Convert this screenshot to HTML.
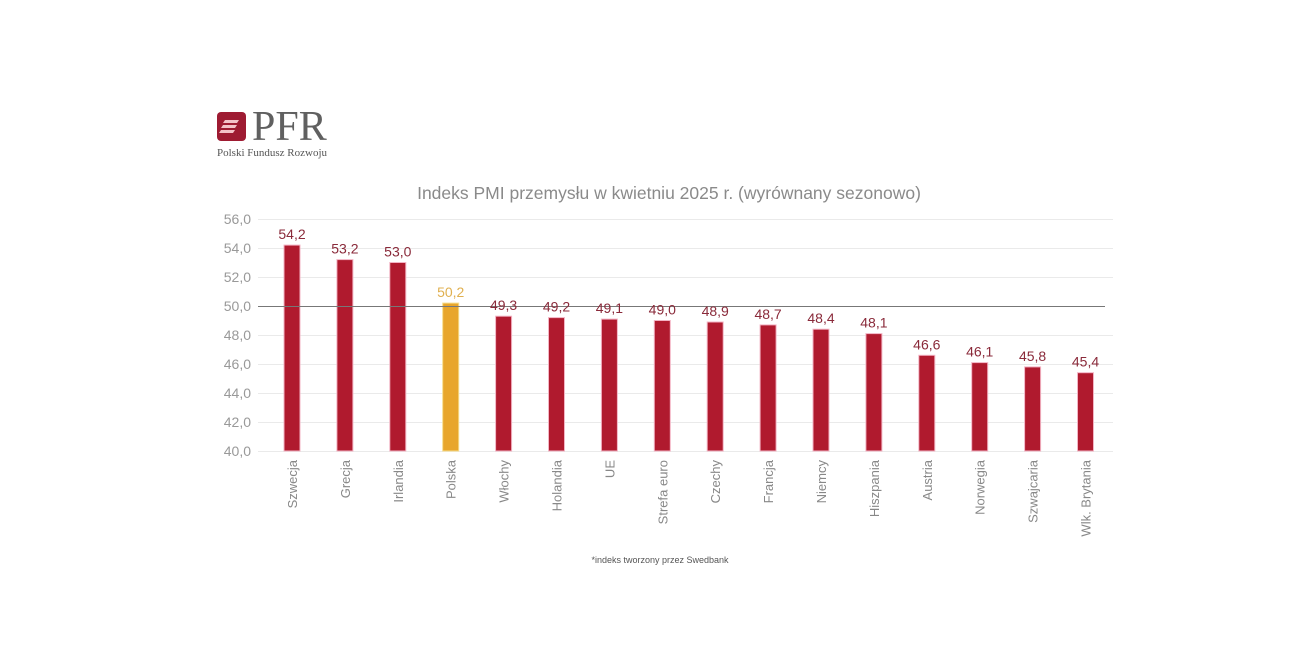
<!DOCTYPE html>
<html><head><meta charset="utf-8"><style>
body{margin:0;background:#fff;width:1294px;height:646px;overflow:hidden;font-family:"Liberation Sans",sans-serif}
</style></head><body>
<svg width="1294" height="646" xmlns="http://www.w3.org/2000/svg" font-family="Liberation Sans, sans-serif">
<rect x="217" y="112" width="29" height="29" rx="4" fill="#9e1b32"/>
<path d="M225 120h14l-2 3h-14zM223 125h14l-2 3h-14zM221 130h14l-2 3h-14z" fill="#f4c2c8"/>
<text x="252" y="140" font-family="Liberation Serif, serif" font-size="42" fill="#606060">PFR</text>
<text x="217" y="156" font-family="Liberation Serif, serif" font-size="11" fill="#555">Polski Fundusz Rozwoju</text>
<text x="669" y="199" text-anchor="middle" font-size="17.5" fill="#8a8a8a">Indeks PMI przemysłu w kwietniu 2025 r. (wyrównany sezonowo)</text>
<g stroke="#eaeaea" stroke-width="1">
<line x1="258" x2="1113" y1="219.5" y2="219.5"/><line x1="258" x2="1113" y1="248.5" y2="248.5"/>
<line x1="258" x2="1113" y1="277.5" y2="277.5"/><line x1="258" x2="1113" y1="335.5" y2="335.5"/>
<line x1="258" x2="1113" y1="364.5" y2="364.5"/><line x1="258" x2="1113" y1="393.5" y2="393.5"/>
<line x1="258" x2="1113" y1="422.5" y2="422.5"/><line x1="258" x2="1113" y1="451.5" y2="451.5"/>
</g>
<g font-size="14" fill="#999" text-anchor="end">
<text x="251" y="224">56,0</text><text x="251" y="253">54,0</text><text x="251" y="282">52,0</text>
<text x="251" y="311">50,0</text><text x="251" y="340">48,0</text><text x="251" y="369">46,0</text>
<text x="251" y="398">44,0</text><text x="251" y="427">42,0</text><text x="251" y="456">40,0</text>
</g>
<g fill="#b01a2e" stroke="#f3b4c4" stroke-width="1">
<rect x="284" y="245.1" width="16" height="205.9"/>
<rect x="336.9" y="259.6" width="16" height="191.4"/>
<rect x="389.8" y="262.5" width="16" height="188.5"/>
<rect x="442.7" y="303.1" width="16" height="147.9" fill="#e8a62c" stroke="#f6dc8a"/>
<rect x="495.6" y="316.2" width="16" height="134.8"/>
<rect x="548.5" y="317.6" width="16" height="133.4"/>
<rect x="601.4" y="319.1" width="16" height="131.9"/>
<rect x="654.3" y="320.5" width="16" height="130.5"/>
<rect x="707.2" y="322" width="16" height="129"/>
<rect x="760.1" y="324.9" width="16" height="126.1"/>
<rect x="813" y="329.2" width="16" height="121.8"/>
<rect x="865.9" y="333.6" width="16" height="117.4"/>
<rect x="918.8" y="355.3" width="16" height="95.7"/>
<rect x="971.7" y="362.6" width="16" height="88.4"/>
<rect x="1024.6" y="366.9" width="16" height="84.1"/>
<rect x="1077.5" y="372.7" width="16" height="78.3"/>
</g>
<line x1="258" x2="1105" y1="306.5" y2="306.5" stroke="#777" stroke-width="1"/>
<g font-size="14" fill="#8a2a3a" text-anchor="middle">
<text x="292" y="239">54,2</text>
<text x="344.9" y="253.6">53,2</text>
<text x="397.8" y="256.5">53,0</text>
<text x="450.7" y="297" fill="#e0b050">50,2</text>
<text x="503.6" y="310.2">49,3</text>
<text x="556.5" y="311.6">49,2</text>
<text x="609.4" y="313.1">49,1</text>
<text x="662.3" y="314.5">49,0</text>
<text x="715.2" y="316">48,9</text>
<text x="768.1" y="318.9">48,7</text>
<text x="821" y="323.2">48,4</text>
<text x="873.9" y="327.6">48,1</text>
<text x="926.8" y="349.3">46,6</text>
<text x="979.7" y="356.6">46,1</text>
<text x="1032.6" y="360.9">45,8</text>
<text x="1085.5" y="366.7">45,4</text>
</g>
<g font-size="13" fill="#888" text-anchor="end">
<text transform="translate(297,460) rotate(-90)">Szwecja</text>
<text transform="translate(349.9,460) rotate(-90)">Grecja</text>
<text transform="translate(402.8,460) rotate(-90)">Irlandia</text>
<text transform="translate(455.7,460) rotate(-90)">Polska</text>
<text transform="translate(508.6,460) rotate(-90)">Włochy</text>
<text transform="translate(561.5,460) rotate(-90)">Holandia</text>
<text transform="translate(614.4,460) rotate(-90)">UE</text>
<text transform="translate(667.3,460) rotate(-90)">Strefa euro</text>
<text transform="translate(720.2,460) rotate(-90)">Czechy</text>
<text transform="translate(773.1,460) rotate(-90)">Francja</text>
<text transform="translate(826,460) rotate(-90)">Niemcy</text>
<text transform="translate(878.9,460) rotate(-90)">Hiszpania</text>
<text transform="translate(931.8,460) rotate(-90)">Austria</text>
<text transform="translate(984.7,460) rotate(-90)">Norwegia</text>
<text transform="translate(1037.6,460) rotate(-90)">Szwajcaria</text>
<text transform="translate(1090.5,460) rotate(-90)">Wlk. Brytania</text>
</g>
<text x="660" y="563" text-anchor="middle" font-size="9" fill="#555">*indeks tworzony przez Swedbank</text>
</svg>
</body></html>
